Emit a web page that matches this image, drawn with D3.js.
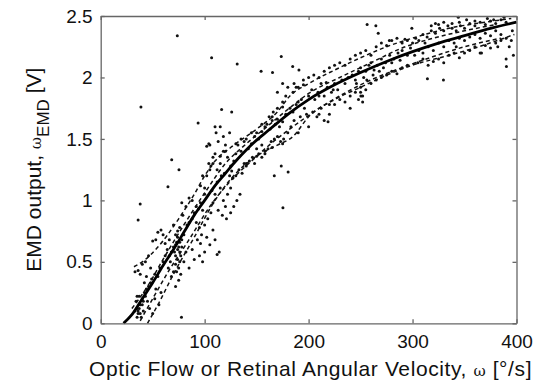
<!DOCTYPE html>
<html>
<head>
<meta charset="utf-8">
<script src="https://cdn.jsdelivr.net/npm/d3@7"></script>
<style>
  body { margin: 0; background: #fff; }
  text { font-family: "Liberation Sans", Arial, sans-serif; fill: #111; }
</style>
</head>
<body>
<svg id="chart"></svg>
<script>
// axis ticks
const xTicks = [0, 100, 200, 300, 400];
const yTicks = [0, 0.5, 1, 1.5, 2, 2.5];

// mean response (solid)
const meanCurve = [[22,0],[30,0.07],[40,0.2],[50,0.33],[60,0.47],[70,0.6],[80,0.74],[90,0.88],[100,1.0],
  [110,1.12],[120,1.22],[130,1.32],[140,1.41],[150,1.49],[160,1.56],[170,1.63],[180,1.7],[200,1.82],
  [225,1.94],[250,2.04],[275,2.13],[300,2.21],[325,2.28],[350,2.34],[375,2.4],[400,2.45]];

// individual trials (dashed)
const trialUpper = [[32,0.46],[40,0.5],[55,0.62],[75,0.85],[90,1.05],[100,1.2],[110,1.32],[125,1.43],
  [150,1.58],[170,1.72],[182,1.85],[200,1.95],[225,2.06],[250,2.16],[275,2.25],[300,2.32],[335,2.4],
  [370,2.45],[395,2.48]];
const trialUpperInner = [[30,0.12],[45,0.3],[60,0.52],[80,0.8],[100,1.06],[120,1.3],[140,1.46],
  [160,1.6],[180,1.74],[200,1.87],[230,2.0],[260,2.12],[290,2.24],[320,2.32],[350,2.38],[380,2.43]];
const trialLowerInner = [[38,0.02],[50,0.2],[65,0.42],[85,0.68],[105,0.95],[125,1.16],[145,1.32],
  [165,1.47],[185,1.6],[205,1.72],[230,1.85],[260,1.98],[290,2.08],[320,2.17],[350,2.25],[385,2.32]];
const trialLower = [[45,0],[55,0.15],[70,0.4],[90,0.7],[110,1.0],[130,1.22],[150,1.36],[170,1.45],
  [185,1.52],[200,1.68],[225,1.82],[250,1.92],[270,2.0],[300,2.1],[335,2.18],[360,2.24],[398,2.35]];
const trials = [trialUpper, trialUpperInner, trialLowerInner, trialLower];

// measured samples
const samples = [
  // sparse outliers
  [38.7,1.76],[73.7,2.34],[106.7,2.16],[131.3,2.11],[154.3,2.05],[165.3,2.04],[173.7,2.17],[184.7,2.09],
  [190.7,2.06],[93.7,1.63],[116.3,1.74],[126,1.72],[110,1.6],[38,0.97],[36,0.84],[68.3,1.33],[75.3,1.25],
  [64.7,1.11],[77.7,0.05],[175.3,0.94],[167,1.2],[173.7,1.28],[180.3,1.23],[314.3,1.99],[329.7,1.98],
  [256.3,2.43],[264.7,2.42],[299.3,2.4],[292.7,2.31],[344,2.49],[390,2.15],[390.3,2.09],[382,2.25],
  [366.3,2.2],[217,1.96],[223.7,1.9],[218.7,1.64],[267,2.36],[277.7,2.3],[250.3,1.85],[252,1.8],
  // low velocities
  [33,0.1],[35,0.12],[36,0.08],[38,0.15],[34,0.18],[37,0.22],[40,0.2],[42,0.25],[39,0.05],[41,0.1],
  [44,0.28],[46,0.3],[48,0.33],[45,0.18],[47,0.12],[50,0.08],[52,0.2],[49,0.36],[52,0.4],[55,0.38],
  [53,0.28],[56,0.15],[58,0.25],[57,0.45],[60,0.5],[35,0.22],[33,0.42],[36,0.43],[38,0.4],[40,0.48],
  [43,0.5],[46,0.55],[50,0.67],[53,0.68],[55,0.74],[58,0.76],[60,0.72],[62,0.65],[64,0.6],[66,0.55],
  [48,0.45],[44,0.38],[42,0.33],[36,0.1],[37,0.12],[38,0.08],[35,0.05],[40,0.15],[43,0.22],[41,0.18],
  [62,0.55],[65,0.45],[67,0.5],[68,0.38],[70,0.42],[72,0.48],[72,0.55],[74,0.6],[75,0.62],[73,0.66],
  [76,0.58],[78,0.68],[70,0.62],[68,0.58],[72,0.3],[75,0.35],[77,0.4],[80,0.5],[82,0.58],[85,0.45],
  [88,0.6],[90,0.52],[93,0.68],[95,0.55],[98,0.5],[100,0.58],[97,0.72],[102,0.7],[105,0.64],[108,0.76],
  [110,0.68],[112,0.56],[114,0.58],[80,0.72],[83,0.8],[85,0.82],[88,0.85],[90,0.9],[92,0.95],[94,0.93],
  [96,0.98],[98,0.92],[100,1.05],[82,0.95],[78,0.98],[85,1.02],[88,1.0],[76,0.78],[74,0.75],[79,0.88],
  [92,0.82],[95,0.78],[103,0.85],[106,0.9],[100,0.8],[96,0.65],[72,0.72],[66,0.68],[70,0.8],
  [74,0.52],[76,0.5],[75,0.45],[73,0.42],[77,0.55],[71,0.58],[76,0.66],[78,0.62],[74,0.7],[72,0.64],
  // middle
  [100,1.1],[102,1.2],[104,1.3],[106,1.28],[108,1.35],[105,1.45],[110,1.38],[112,1.25],[115,1.3],[118,1.4],
  [120,1.45],[122,1.35],[125,1.28],[128,1.32],[130,1.38],[132,1.45],[135,1.4],[138,1.48],[140,1.5],[142,1.42],
  [145,1.46],[148,1.52],[150,1.55],[110,1.05],[112,1.15],[115,1.1],[118,1.0],[120,0.95],[122,1.05],[125,1.1],
  [127,1.18],[130,1.2],[133,1.25],[136,1.22],[138,1.3],[140,1.28],[143,1.32],[146,1.35],[148,1.3],[108,0.98],
  [113,0.92],[117,0.88],[121,0.85],[125,0.9],[128,0.95],[131,1.0],[134,1.05],[107,1.08],[116,1.2],[119,1.22],
  [124,1.2],[126,1.24],[113,1.48],[118,1.52],[124,1.55],[102,1.44],[104,1.46],[111,1.55],[115,1.6],[96,1.12],
  [98,1.2],[105,1.25],[108,1.3],[115,1.36],[120,1.4],[130,1.46],[135,1.5],[145,1.55],
  [152,1.5],[155,1.56],[158,1.6],[160,1.62],[163,1.58],[165,1.65],[168,1.62],[170,1.66],[172,1.6],[175,1.64],
  [178,1.7],[155,1.45],[158,1.4],[161,1.42],[164,1.48],[167,1.5],[170,1.52],[173,1.48],[176,1.5],[180,1.55],
  [183,1.6],[186,1.65],[152,1.38],[155,1.35],[150,1.42],[162,1.68],[166,1.72],[170,1.75],[175,1.8],[178,1.85],
  [182,1.75],[185,1.72],[188,1.78],[190,1.8],[193,1.82],[196,1.75],[200,1.85],[203,1.9],[206,1.82],[209,1.88],
  [192,1.68],[198,1.7],[204,1.72],[208,1.68],[212,1.75],[180,1.92],[186,1.95],[190,1.92],[195,1.98],[200,2.0],
  [205,2.02],[210,2.0],[170,1.88],[175,1.95],[215,1.65],[220,1.7],
  [155,1.62],[165,1.68],[175,1.76],[185,1.88],[188,1.92],[195,1.94],
  [140,1.3],[150,1.36],[158,1.38],[165,1.43],[175,1.46],[190,1.55],[200,1.6],[210,1.7],[220,1.78],
  // high velocities
  [215,1.85],[218,1.92],[222,1.88],[225,1.95],[228,1.9],[232,1.98],[235,1.95],[238,2.0],[242,2.02],[245,1.98],
  [248,2.05],[250,2.08],[253,2.0],[255,2.05],[258,2.1],[260,2.12],[263,2.06],[266,2.1],[270,2.15],[274,2.12],
  [278,2.18],[282,2.15],[286,2.2],[290,2.22],[295,2.18],[298,2.24],[215,2.05],[220,2.08],[225,2.1],[230,2.12],
  [235,2.1],[240,2.15],[245,2.18],[250,2.2],[255,2.22],[260,2.18],[265,2.25],[270,2.28],[275,2.26],[280,2.3],
  [285,2.32],[290,2.28],[295,2.3],[225,1.78],[230,1.82],[235,1.8],[240,1.85],[245,1.88],[250,1.92],[255,1.9],
  [260,1.95],[265,1.98],[270,2.0],[275,2.02],[280,2.05],[285,2.03],[290,2.08],[295,2.1],[248,1.82],[252,1.85],
  [246,1.95],[256,1.98],[262,2.02],[268,2.05],[272,2.08],[250,1.88],[240,1.75],[210,1.85],[212,1.95],[280,2.12],
  [288,2.14],
  [300,2.28],[303,2.32],[306,2.3],[310,2.35],[314,2.33],[318,2.38],[322,2.36],[326,2.4],[330,2.38],[334,2.42],
  [338,2.4],[342,2.38],[346,2.42],[350,2.4],[355,2.44],[360,2.42],[365,2.45],[370,2.43],[375,2.46],[380,2.44],
  [385,2.47],[390,2.45],[302,2.18],[306,2.22],[310,2.2],[315,2.25],[320,2.22],[325,2.28],[330,2.25],[335,2.3],
  [340,2.28],[345,2.32],[350,2.3],[355,2.33],[360,2.35],[365,2.32],[370,2.36],[375,2.34],[380,2.38],[385,2.35],
  [390,2.32],[395,2.3],[305,2.12],[310,2.15],[315,2.1],[320,2.13],[325,2.15],[330,2.12],[335,2.18],[340,2.2],
  [345,2.16],[350,2.2],[355,2.22],[360,2.25],[365,2.2],[370,2.26],[375,2.24],[380,2.28],[385,2.3],[393,2.25],
  [397,2.18],[396,2.38],[318,2.42],[322,2.44],[330,2.45],[338,2.44],[312,2.28],[342,2.25],
  [325,2.43],[345,2.45],[352,2.47],[360,2.46],[372,2.48],[378,2.47],[388,2.49]
];

const width = 542, height = 382;
const margin = {top: 16, right: 25.5, bottom: 58.7, left: 100.7};

const svg = d3.select("#chart")
    .attr("width", width)
    .attr("height", height);

const x = d3.scaleLinear().domain([0, 400]).range([margin.left, width - margin.right]);
const y = d3.scaleLinear().domain([0, 2.5]).range([height - margin.bottom, margin.top]);

const frameColor = "#666";
const tickFont = 19;

// samples
svg.append("g")
  .selectAll("circle")
  .data(samples)
  .enter()
  .append("circle")
  .attr("cx", d => x(d[0]))
  .attr("cy", d => y(d[1]))
  .attr("r", 1.5)
  .attr("fill", "#111");

const line = d3.line()
    .x(d => x(d[0]))
    .y(d => y(d[1]))
    .curve(d3.curveMonotoneX);

// dashed trials
svg.append("g")
  .selectAll("path")
  .data(trials)
  .enter()
  .append("path")
  .attr("d", line)
  .attr("fill", "none")
  .attr("stroke", "#111")
  .attr("stroke-width", 1.5)
  .attr("stroke-dasharray", "4,3");

// mean curve
svg.append("path")
  .attr("d", line(meanCurve))
  .attr("fill", "none")
  .attr("stroke", "#000")
  .attr("stroke-width", 2.8);

// box axes with inward ticks
const tickLen = 4;
svg.append("g")
  .attr("transform", `translate(0,${y(0)})`)
  .call(d3.axisBottom(x).tickValues(xTicks).tickSizeInner(-tickLen).tickSizeOuter(0).tickPadding(11))
  .call(g => g.selectAll("text").attr("font-size", tickFont).attr("font-family", "Liberation Sans, Arial, sans-serif").attr("fill", "#111"));
svg.append("g")
  .attr("transform", `translate(0,${y(2.5)})`)
  .call(d3.axisTop(x).tickValues(xTicks).tickSizeInner(-tickLen).tickSizeOuter(0).tickFormat(""));
svg.append("g")
  .attr("transform", `translate(${x(0)},0)`)
  .call(d3.axisLeft(y).tickValues(yTicks).tickSizeInner(-tickLen).tickSizeOuter(0).tickPadding(8).tickFormat(d3.format("~g")))
  .call(g => g.selectAll("text").attr("font-size", tickFont).attr("font-family", "Liberation Sans, Arial, sans-serif").attr("fill", "#111"));
svg.append("g")
  .attr("transform", `translate(${x(400)},0)`)
  .call(d3.axisRight(y).tickValues(yTicks).tickSizeInner(-tickLen).tickSizeOuter(0).tickFormat(""));

svg.selectAll(".domain, .tick line").attr("stroke", frameColor).attr("stroke-width", 1.3);

// axis titles
const xTitle = svg.append("text")
  .attr("x", (x(0) + x(400)) / 2 + 2)
  .attr("y", 376)
  .attr("text-anchor", "middle")
  .attr("font-size", 21)
  .attr("letter-spacing", 0.6);
xTitle.append("tspan").text("Optic Flow or Retinal Angular Velocity, ");
xTitle.append("tspan").attr("font-family", "DejaVu Serif, serif").attr("font-size", 15).text("ω");
xTitle.append("tspan").text(" [°/s]");

const yTitle = svg.append("text")
  .attr("transform", `translate(41,${(y(0) + y(2.5)) / 2}) rotate(-90)`)
  .attr("text-anchor", "middle")
  .attr("font-size", 21);
yTitle.append("tspan").text("EMD output, ");
yTitle.append("tspan").attr("font-family", "DejaVu Serif, serif").attr("font-size", 15).text("ω");
yTitle.append("tspan").attr("dy", 8).attr("font-size", 17).text("EMD");
yTitle.append("tspan").attr("dy", -8).text(" [V]");
</script>
</body>
</html>
